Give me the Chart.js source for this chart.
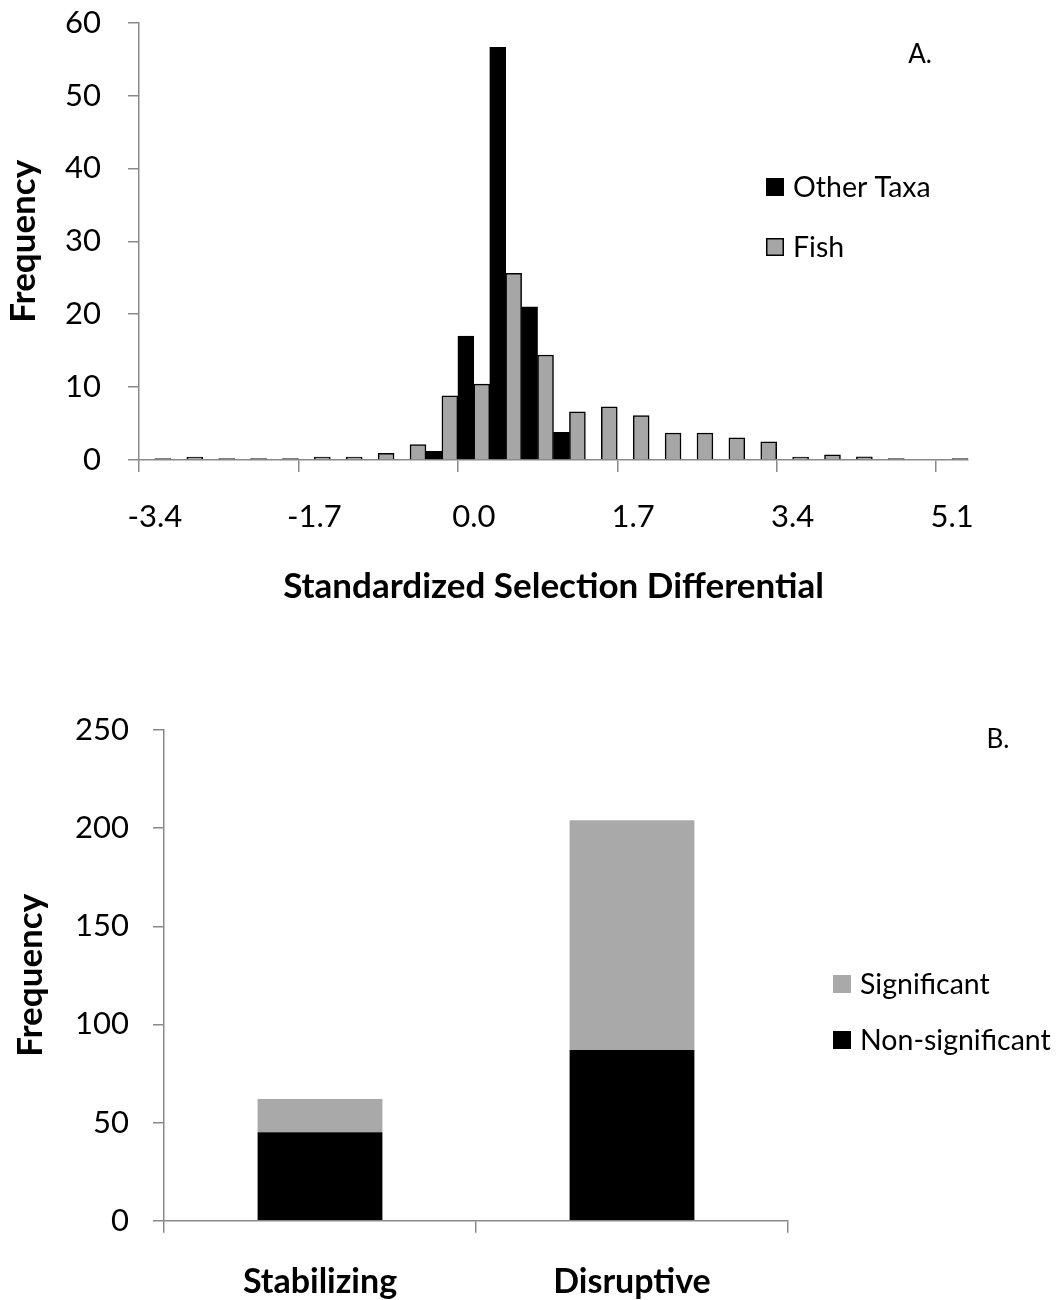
<!DOCTYPE html>
<html>
<head>
<meta charset="utf-8">
<script src="https://cdn.jsdelivr.net/npm/chart.js@4.4.1/dist/chart.umd.min.js"></script>
<style>
  body { margin: 0; background: #fff; overflow: hidden; }
  .box { position: relative; width: 1062px; }
  #boxA { height: 663px; margin-top: -23px; }
  #boxB { height: 660px; }
</style>
</head>
<body>
<div class="box" id="boxA"><canvas id="chartA"></canvas></div>
<div class="box" id="boxB"><canvas id="chartB"></canvas></div>
<script>
// Panel A: histogram of standardized selection differentials (bins of 0.34)
const bins = ['-3.4', '-3.1', '-2.7', '-2.4', '-2.0', '-1.7', '-1.4', '-1.0', '-0.7', '-0.3',
              '0.0', '0.3', '0.7', '1.0', '1.4', '1.7', '2.0', '2.4', '2.7', '3.1',
              '3.4', '3.7', '4.1', '4.4', '4.8', '5.1'];
const otherTaxa = [0, 0, 0, 0, 0, 0, 0, 0, 0, 1.2,
                   17, 56.6, 21, 3.8, 0, 0, 0, 0, 0, 0,
                   0, 0, 0, 0, 0, 0];
const fish = [0.2, 0.4, 0.2, 0.2, 0.2, 0.4, 0.4, 0.9, 2.1, 8.8,
              10.4, 25.6, 14.4, 6.6, 7.3, 6.1, 3.7, 3.7, 3.05, 2.5,
              0.4, 0.7, 0.45, 0.2, 0, 0.2];
const xTickLabels = ['-3.4', '-1.7', '0.0', '1.7', '3.4', '5.1'];

// Panel B: stabilizing vs disruptive selection
const forms = ['Stabilizing', 'Disruptive'];
const nonSignificant = [45, 87];
const significant = [17, 117];

const AXIS = '#898989';
const FISH_GREY = '#a6a6a6';
const SIG_GREY = '#a9a9a9';

Chart.defaults.font.family = 'Lato, "Open Sans", sans-serif';
Chart.defaults.color = '#000';
Chart.defaults.animation = false;

// draws the little in-plot legend and the panel letter
const boxLegend = {
  id: 'boxLegend',
  afterDraw(chart, args, opts) {
    const ctx = chart.ctx;
    ctx.save();
    ctx.font = opts.size + 'px ' + Chart.defaults.font.family;
    ctx.textBaseline = 'middle';
    ctx.textAlign = 'left';
    opts.items.forEach((it) => {
      const ds = chart.data.datasets[it.dataset];
      const s = opts.square;
      ctx.fillStyle = ds.backgroundColor;
      ctx.fillRect(it.x, it.y - s / 2, s, s);
      if (opts.outline) {
        ctx.strokeStyle = '#000';
        ctx.lineWidth = 1.5;
        ctx.strokeRect(it.x + 0.75, it.y - s / 2 + 0.75, s - 1.5, s - 1.5);
      }
      ctx.fillStyle = '#000';
      ctx.fillText(ds.label, it.x + s + 9, it.y + 1);
    });
    ctx.font = opts.tagSize + 'px ' + Chart.defaults.font.family;
    ctx.textAlign = 'center';
    ctx.fillText(opts.tag.text, opts.tag.x, opts.tag.y);
    ctx.restore();
  }
};

new Chart(document.getElementById('chartA'), {
  type: 'bar',
  data: {
    labels: bins,
    datasets: [
      {
        label: 'Other Taxa',
        data: otherTaxa,
        backgroundColor: '#000',
        borderColor: '#000',
        borderWidth: 1.5,
        borderSkipped: 'bottom',
        barPercentage: 1,
        categoryPercentage: 1,
      },
      {
        label: 'Fish',
        data: fish,
        backgroundColor: FISH_GREY,
        borderColor: '#000',
        borderWidth: 1.5,
        borderSkipped: 'bottom',
        barPercentage: 1,
        categoryPercentage: 1,
      },
    ],
  },
  options: {
    responsive: true,
    maintainAspectRatio: false,
    layout: { padding: { left: 0, right: 94, top: 0, bottom: 0 } },
    plugins: {
      legend: { display: false },
      tooltip: { enabled: false },
      boxLegend: {
        size: 28.5,
        tagSize: 26,
        square: 18,
        outline: true,
        items: [
          { dataset: 0, x: 766, y: 210 },
          { dataset: 1, x: 766, y: 270 },
        ],
        tag: { text: 'A.', x: 920, y: 78 },
      },
    },
    scales: {
      x: {
        afterFit: (s) => { s.height = 180; },
        grid: {
          offset: true,
          drawOnChartArea: false,
          drawTicks: true,
          tickLength: 12,
          lineWidth: 1.5,
          color: (c) => (xTickLabels.includes(bins[c.index]) ? AXIS : 'rgba(0,0,0,0)'),
        },
        border: { color: AXIS, width: 1.5 },
        ticks: {
          autoSkip: false,
          maxRotation: 0,
          padding: 26,
          font: { size: 31 },
          callback: function (v) {
            const l = this.getLabelForValue(v);
            return xTickLabels.includes(l) ? l : '';
          },
        },
        title: {
          display: true,
          text: 'Standardized Selection Differential',
          font: { size: 35, weight: 'bold' },
          padding: { top: 32, bottom: 32 },
        },
      },
      y: {
        min: 0,
        max: 60,
        afterFit: (s) => { s.width = 139; },
        grid: {
          drawOnChartArea: false,
          drawTicks: true,
          tickLength: 11,
          lineWidth: 1.5,
          color: AXIS,
        },
        border: { color: AXIS, width: 1.5 },
        ticks: { stepSize: 10, padding: 27, font: { size: 31 } },
        title: {
          display: true,
          text: 'Frequency',
          font: { size: 35, weight: 'bold' },
          padding: { top: 3, bottom: 3 },
        },
      },
    },
  },
  plugins: [boxLegend],
});

new Chart(document.getElementById('chartB'), {
  type: 'bar',
  data: {
    labels: forms,
    datasets: [
      {
        label: 'Non-significant',
        data: nonSignificant,
        backgroundColor: '#000',
        barPercentage: 0.4,
        categoryPercentage: 1,
      },
      {
        label: 'Significant',
        data: significant,
        backgroundColor: SIG_GREY,
        barPercentage: 0.4,
        categoryPercentage: 1,
      },
    ],
  },
  options: {
    responsive: true,
    maintainAspectRatio: false,
    layout: { padding: { left: 0, right: 274, top: 90, bottom: 0 } },
    plugins: {
      legend: { display: false },
      tooltip: { enabled: false },
      boxLegend: {
        size: 28.5,
        tagSize: 26,
        square: 18,
        outline: false,
        items: [
          { dataset: 1, x: 833, y: 344 },
          { dataset: 0, x: 833, y: 400 },
        ],
        tag: { text: 'B.', x: 998, y: 100 },
      },
    },
    scales: {
      x: {
        stacked: true,
        afterFit: (s) => { s.height = 79.3; },
        grid: {
          offset: true,
          drawOnChartArea: false,
          drawTicks: true,
          tickLength: 12,
          lineWidth: 1.5,
          color: AXIS,
        },
        border: { color: AXIS, width: 1.5 },
        ticks: { maxRotation: 0, padding: 29, font: { size: 34, weight: 'bold' } },
      },
      y: {
        stacked: true,
        min: 0,
        max: 250,
        afterFit: (s) => { s.width = 164; },
        grid: {
          drawOnChartArea: false,
          drawTicks: true,
          tickLength: 11,
          lineWidth: 1.5,
          color: AXIS,
        },
        border: { color: AXIS, width: 1.5 },
        ticks: { stepSize: 50, padding: 24, font: { size: 31 } },
        title: {
          display: true,
          text: 'Frequency',
          font: { size: 35, weight: 'bold' },
          padding: { top: 10, bottom: 10 },
        },
      },
    },
  },
  plugins: [boxLegend],
});
</script>
</body>
</html>
